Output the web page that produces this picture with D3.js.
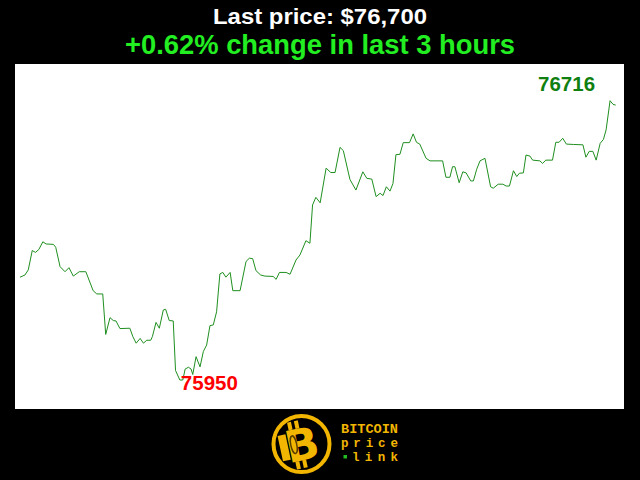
<!DOCTYPE html>
<html>
<head>
<meta charset="utf-8">
<script src="https://cdn.jsdelivr.net/npm/d3@7"></script>
<style>
html,body{margin:0;padding:0;background:#000;}
svg{display:block;}
</style>
</head>
<body>
<svg id="chart" width="640" height="480"></svg>
<script>
// ---- data ----
const minutes = [0,1.5,2.5,3.7,4.7,5.7,6.9,7.9,10.1,10.8,12.1,13.6,14.8,16.1,17.9,19.9,22.1,23.2,25.0,25.9,27.2,28.2,29.0,30.2,33.2,34.1,35.1,36.3,37.3,38.3,39.5,40.0,41.1,42.1,43.3,44.0,45.1,46.3,47.0,48.3,49.2,49.9,50.9,51.7,52.2,53.2,54.4,55.4,56.4,57.4,58.4,59.4,60.4,61.3,62.2,63.5,64.3,66.5,68.3,69.3,70.3,71.3,72.7,74.0,76.5,77.4,78.4,80.4,81.6,83.4,84.6,86.4,87.6,88.4,89.4,90.7,92.5,93.9,95.2,96.7,97.7,99.7,101.5,103.6,104.8,106.3,107.6,108.8,109.7,110.7,111.8,112.7,113.6,114.8,115.8,117.7,118.8,119.8,120.8,122.7,123.9,127.7,128.7,129.9,130.7,131.4,132.7,133.8,134.8,136.2,137.0,138.0,139.0,140.5,142.2,143.0,144.5,145.9,146.9,147.9,149.1,150.1,150.9,152.1,152.9,154.1,154.9,157.1,157.9,158.9,160.9,161.9,162.9,164.0,165.1,167.2,170.1,171.0,172.0,173.1,174.1,175.3,176.3,177.1,178.3,179.2,180.0];
const prices = [76232,76238,76252,76305,76300,76308,76329,76323,76322,76314,76261,76247,76258,76235,76247,76247,76195,76186,76186,76075,76121,76113,76112,76091,76092,76069,76051,76064,76051,76059,76059,76069,76108,76092,76142,76144,76113,76112,75976,75950,75950,75980,75985,75980,75965,76014,75986,76028,76046,76099,76101,76137,76241,76245,76232,76245,76195,76195,76275,76284,76283,76250,76238,76235,76234,76226,76245,76245,76240,76279,76293,76332,76325,76430,76451,76436,76531,76519,76519,76588,76579,76500,76471,76521,76503,76501,76453,76462,76456,76480,76468,76489,76568,76569,76601,76601,76625,76602,76597,76558,76551,76551,76506,76506,76535,76535,76491,76521,76518,76496,76496,76528,76551,76558,76480,76476,76487,76487,76482,76482,76524,76508,76517,76518,76567,76564,76553,76551,76544,76553,76553,76602,76602,76613,76597,76596,76595,76561,76577,76577,76553,76599,76610,76636,76716,76706,76704];
const titleLines = ["Last price: $76,700", "+0.62% change in last 3 hours"];
const minPrice = 75950;
const maxPrice = 76716;
const logoLines = ["BITCOIN", "price", "link"];

// ---- drawing ----
const svg = d3.select("#chart");
svg.append("rect").attr("width",640).attr("height",480).attr("fill","#000");

// titles
const tf = "'Liberation Sans', Arial, sans-serif";
svg.append("text").attr("x",320).attr("y",24).attr("text-anchor","middle")
  .attr("font-family",tf).attr("font-weight",700)
  .attr("font-size",22.5).attr("fill","#ffffff")
  .attr("textLength",214).attr("lengthAdjust","spacingAndGlyphs")
  .text(titleLines[0]);
svg.append("text").attr("x",320).attr("y",53.5).attr("text-anchor","middle")
  .attr("font-family",tf).attr("font-weight",700)
  .attr("font-size",27).attr("fill","#22ee22")
  .attr("textLength",390).attr("lengthAdjust","spacingAndGlyphs")
  .text(titleLines[1]);

// plot area
svg.append("rect").attr("x",15).attr("y",64).attr("width",609).attr("height",345).attr("fill","#ffffff");

const data = minutes.map((m,i)=>({t:m, p:prices[i]}));
const x = d3.scaleLinear().domain([0,180]).range([20,615.7]);
const y = d3.scaleLinear().domain([minPrice,maxPrice]).range([380,100.7]);

svg.append("path").datum(data)
  .attr("fill","none").attr("stroke","#1f8f1f").attr("stroke-width",1)
  .attr("d", d3.line().x(d=>x(d.t)).y(d=>y(d.p)));

const minD = data.find(d=>d.p===minPrice);
const maxD = data.find(d=>d.p===maxPrice);
svg.append("text").attr("x",x(minD.t)+1).attr("y",y(minD.p)+10)
  .attr("font-family",tf).attr("font-weight",700)
  .attr("font-size",20).attr("fill","#ff0000")
  .attr("textLength",57).attr("lengthAdjust","spacingAndGlyphs").text(String(minPrice));
svg.append("text").attr("x",x(maxD.t)-15).attr("y",y(maxD.p)-9.5).attr("text-anchor","end")
  .attr("font-family",tf).attr("font-weight",700)
  .attr("font-size",20).attr("fill","#0f800f")
  .attr("textLength",57).attr("lengthAdjust","spacingAndGlyphs").text(String(maxPrice));

// logo
const gold = "#f2b600";
const logo = svg.append("g");
logo.append("circle").attr("cx",301.5).attr("cy",444).attr("r",28).attr("fill","none")
  .attr("stroke",gold).attr("stroke-width",4);
const b = logo.append("g").attr("transform","translate(302,445) rotate(-12)");
b.append("rect").attr("x",-10).attr("y",-25).attr("width",4).attr("height",8).attr("fill",gold);
b.append("rect").attr("x",-3).attr("y",-25).attr("width",4).attr("height",8).attr("fill",gold);
b.append("rect").attr("x",-10).attr("y",15).attr("width",4).attr("height",8).attr("fill",gold);
b.append("rect").attr("x",-3).attr("y",15).attr("width",4).attr("height",8).attr("fill",gold);
b.append("text").attr("x",0).attr("y",15).attr("text-anchor","middle")
  .attr("font-family","'DejaVu Sans', sans-serif").attr("font-weight",700)
  .attr("font-size",44).attr("fill",gold).text("B");
b.append("ellipse").attr("cx",-8).attr("cy",-2).attr("rx",3).attr("ry",9)
  .attr("fill","none").attr("stroke","#5a3e00").attr("stroke-width",1.5);
b.append("line").attr("x1",-18).attr("y1",-14).attr("x2",-18).attr("y2",12)
  .attr("stroke",gold).attr("stroke-width",8);

const lf = "'Liberation Mono', 'DejaVu Sans Mono', monospace";
logo.append("text").attr("x",341).attr("y",433).attr("font-family",lf).attr("font-weight",700)
  .attr("font-size",12).attr("fill",gold).attr("textLength",57).attr("lengthAdjust","spacingAndGlyphs")
  .text(logoLines[0]);
logo.append("text").attr("x",341).attr("y",446.5).attr("font-family",lf).attr("font-weight",700)
  .attr("font-size",12.5).attr("fill",gold).attr("textLength",57).attr("lengthAdjust","spacing")
  .text(logoLines[1]);
logo.append("rect").attr("x",343.5).attr("y",455).attr("width",3.5).attr("height",3.5).attr("fill","#22bb22");
logo.append("text").attr("x",352).attr("y",460.5).attr("font-family",lf).attr("font-weight",700)
  .attr("font-size",12.5).attr("fill",gold).attr("textLength",46).attr("lengthAdjust","spacing")
  .text(logoLines[2]);
</script>
</body>
</html>
